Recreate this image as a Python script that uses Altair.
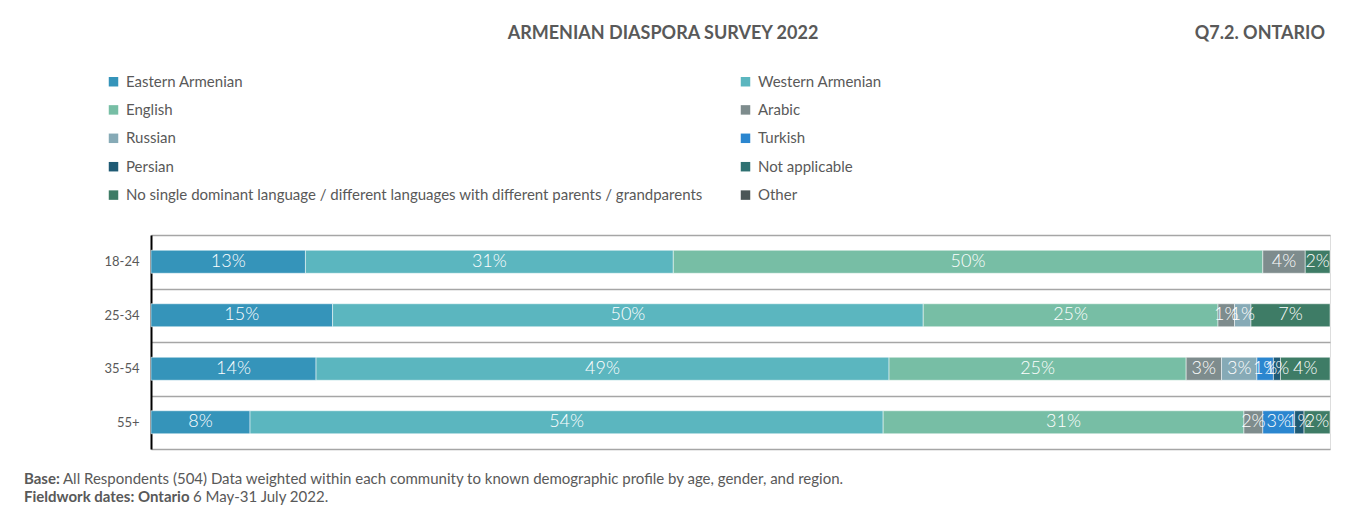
import altair as alt
import pandas as pd

ages = ["18-24", "25-34", "35-54", "55+"]
languages = [
    "Eastern Armenian", "Western Armenian", "English", "Arabic", "Russian",
    "Turkish", "Persian", "Not applicable",
    "No single dominant language / different languages with different parents / grandparents",
    "Other",
]
colors = ["#3594BA", "#5BB6BF", "#77BEA5", "#7E8C8D", "#86AAB6",
          "#2B86CF", "#1F5A74", "#2F7172", "#3E7C66", "#4B5657"]

# percentage values per language (same order as languages), per age group
v_18_24 = [13.1, 31.2, 50.0, 3.6, 0, 0, 0, 0, 2.1, 0]
v_25_34 = [15.4, 50.1, 25.0, 1.4, 1.4, 0, 0, 0, 6.7, 0]
v_35_54 = [14.0, 48.6, 25.2, 3.0, 3.0, 1.4, 0.6, 0, 4.2, 0]
v_55p = [8.4, 53.7, 30.6, 1.6, 0, 2.7, 0.8, 0, 2.2, 0]

title_text = "ARMENIAN DIASPORA SURVEY 2022"
corner_text = "Q7.2. ONTARIO"
foot1_bold = "Base:"
foot1_text = "All Respondents (504) Data weighted within each community to known demographic profile by age, gender, and region."
foot2_bold = "Fieldwork dates: Ontario"
foot2_text = "6 May-31 July 2022."

rows = []
for age, vals in zip(ages, [v_18_24, v_25_34, v_35_54, v_55p]):
    for i, (lang, v) in enumerate(zip(languages, vals)):
        if v > 0:
            rows.append({"age": age, "lang": lang, "value": v, "order": i})
df = pd.DataFrame(rows)

W, H = 1179, 214
FONT = "Lato"

base = alt.Chart(df).transform_stack(
    stack="value", as_=["x0", "x1"], groupby=["age"], sort=[alt.SortField("order")]
).transform_calculate(
    mid="(datum.x0 + datum.x1) / 2",
    label="format(datum.value, '.0f') + '%'",
)

yenc = alt.Y("age:N", sort=ages, title=None,
             scale=alt.Scale(paddingInner=0, paddingOuter=0),
             axis=alt.Axis(tickBand="extent", grid=True, gridColor="#A6A6A6",
                           gridWidth=1.5, ticks=False, domainColor="#000000",
                           domainWidth=2, labelPadding=12, labelFontSize=13,
                           labelColor="#595959", labelFont=FONT))

bars = base.mark_bar(size=23, stroke="white", strokeWidth=0.5).encode(
    x=alt.X("x0:Q", scale=alt.Scale(domain=[0, 100], nice=False), title=None,
            axis=alt.Axis(labels=False, ticks=False, grid=False, domain=False)),
    x2="x1:Q",
    y=yenc,
    color=alt.Color("lang:N", scale=alt.Scale(domain=languages, range=colors),
                    legend=alt.Legend(title=None, orient="none", legendX=-45,
                                      legendY=-161, columns=2, columnPadding=35,
                                      direction="horizontal",
                                      rowPadding=12.4, symbolType="square",
                                      symbolSize=90, symbolStrokeWidth=0,
                                      labelFontSize=15, labelColor="#595959",
                                      labelFont=FONT, labelOffset=5,
                                      labelLimit=800, padding=0,
                                      values=languages)),
    order="order:Q",
)

labels = base.mark_text(color="white", fontSize=18, font=FONT, fontWeight=300).encode(
    x="mid:Q",
    y=alt.Y("age:N", sort=ages),
    text="label:N",
)

def txt(s, x, y, align="left", size=15, weight="normal", color="#595959"):
    return alt.Chart(pd.DataFrame({"t": [s]})).mark_text(
        align=align, baseline="middle", fontSize=size, fontWeight=weight,
        color=color, font=FONT
    ).encode(text="t:N", x=alt.value(x), y=alt.value(y))

title = txt(title_text, 512, -201, align="center", size=18, weight="bold")
corner = txt(corner_text, 1174, -201, align="right", size=18, weight="bold")
f1b = txt(foot1_bold, -127, 244, weight="bold")
f1 = txt(foot1_text, -88, 244)
f2b = txt(foot2_bold, -127, 262, weight="bold")
f2 = txt(foot2_text, 42, 262)

chart = alt.layer(bars, labels, title, corner, f1b, f1, f2b, f2).properties(
    width=W, height=H,
    autosize=alt.AutoSizeParams(type="none"),
    padding={"left": 143, "top": 227, "right": 15, "bottom": 60},
).configure_view(stroke=None).configure(font=FONT)

chart.save("out.html", embed_options={"renderer": "svg", "actions": False})
